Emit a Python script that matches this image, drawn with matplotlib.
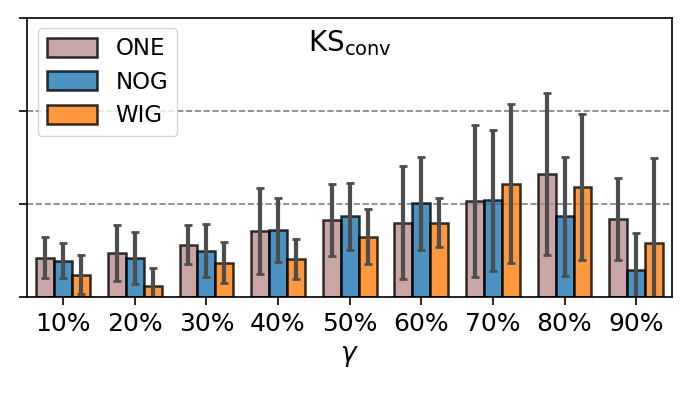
import matplotlib
matplotlib.use("Agg")
import matplotlib.pyplot as plt
import numpy as np

categories = ["10%", "20%", "30%", "40%", "50%", "60%", "70%", "80%", "90%"]
series_names = ["ONE", "NOG", "WIG"]
one_mean = [0.42, 0.47, 0.56, 0.71, 0.83, 0.80, 1.03, 1.32, 0.84]
one_err = [0.22, 0.30, 0.21, 0.46, 0.39, 0.61, 0.82, 0.87, 0.44]
nog_mean = [0.39, 0.42, 0.50, 0.72, 0.87, 1.01, 1.04, 0.87, 0.29]
nog_err = [0.19, 0.28, 0.29, 0.34, 0.36, 0.50, 0.76, 0.64, 0.40]
wig_mean = [0.24, 0.12, 0.37, 0.41, 0.65, 0.80, 1.22, 1.18, 0.58]
wig_err = [0.21, 0.19, 0.22, 0.215, 0.30, 0.26, 0.85, 0.785, 0.92]
yticks = [0, 1, 2, 3]

means = [one_mean, nog_mean, wig_mean]
errs = [one_err, nog_err, wig_err]
colors = ["rosybrown", "tab:blue", "tab:orange"]

fig = plt.figure(figsize=(6.9, 3.94), dpi=100)
ax = fig.add_axes([27.3/690, 1-297/394, (672-27.3)/690, (297-18)/394])

x = np.arange(len(categories))
w = 0.25
for i, (m, e, c, n) in enumerate(zip(means, errs, colors, series_names)):
    ax.bar(x + (i-1)*w, m, w, yerr=e, color=c, alpha=0.8, edgecolor="black",
           linewidth=1.8, label=n,
           error_kw=dict(ecolor="#4d4d4d", elinewidth=3, capsize=2.6, capthick=2))

ax.set_xlim(-0.5, len(categories)-0.5)
ax.set_ylim(0, 3)
ax.set_yticks(yticks)
ax.set_yticklabels([])
for yv in [1, 2]:
    ax.axhline(yv, color="gray", linestyle="--", linewidth=1.2, zorder=0)
ax.set_xticks(x)
ax.set_xticklabels(categories, fontsize=18)
ax.tick_params(axis="both", length=6, width=1.2, pad=5)
for s in ax.spines.values():
    s.set_linewidth(1.2)
ax.set_xlabel(r"$\gamma$", fontsize=19, labelpad=5)
ax.text(0.5, 0.965, r"$\mathrm{KS}_{\mathrm{conv}}$", transform=ax.transAxes,
        ha="center", va="top", fontsize=20)
ax.legend(loc="upper left", fontsize=16.5, handlelength=2.2, handleheight=0.9,
          borderaxespad=0.45, labelspacing=0.45)
fig.savefig("out.png", dpi=100)
